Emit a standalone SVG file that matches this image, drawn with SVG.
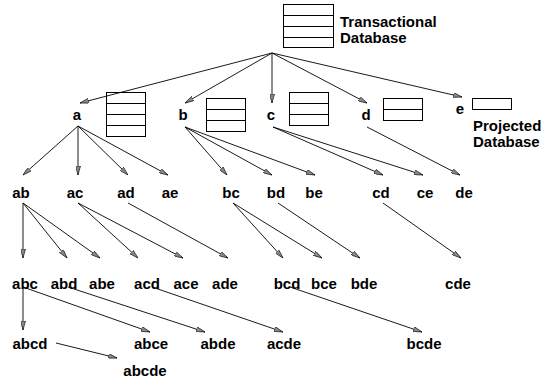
<svg xmlns="http://www.w3.org/2000/svg" width="545" height="381" viewBox="0 0 545 381">
  <style>
    text { font-family: "Liberation Sans", Arial, Helvetica, sans-serif; font-weight: bold; font-size: 15px; fill: #000; }
    .n { text-anchor: middle; }
    .db { fill: #fff; stroke: #000; stroke-width: 1; }
    .row { stroke: #000; stroke-width: 1; }
    .edge { stroke: #000; stroke-width: 0.9; fill: none; marker-end: url(#arr); }
  </style>
  <defs>
    <marker id="arr" markerUnits="userSpaceOnUse" viewBox="0 0 9 5" refX="9" refY="2.5" markerWidth="9" markerHeight="5" orient="auto">
      <path d="M0,0 L9,2.5 L0,5 Z" fill="#888" stroke="#000" stroke-width="0.6"/>
    </marker>
  </defs>

  <!-- database stacks -->
  <g id="db-root">
    <rect class="db" x="283.5" y="4.5" width="50" height="43"/>
    <path class="row" d="M283.5,15.5 H333.5 M283.5,26.5 H333.5 M283.5,37.5 H333.5"/>
    <text x="340" y="27">Transactional</text>
    <text x="340" y="43">Database</text>
  </g>
  <g id="db-a">
    <rect class="db" x="106.5" y="92.5" width="39" height="44"/>
    <path class="row" d="M106.5,103.5 H145.5 M106.5,114.5 H145.5 M106.5,125.5 H145.5"/>
  </g>
  <g id="db-b">
    <rect class="db" x="206.5" y="98.5" width="39" height="33"/>
    <path class="row" d="M206.5,109.5 H245.5 M206.5,120.5 H245.5"/>
  </g>
  <g id="db-c">
    <rect class="db" x="289.5" y="92.5" width="39" height="33"/>
    <path class="row" d="M289.5,103.5 H328.5 M289.5,114.5 H328.5"/>
  </g>
  <g id="db-d">
    <rect class="db" x="383.5" y="98.5" width="39" height="22"/>
    <path class="row" d="M383.5,109.5 H422.5"/>
  </g>
  <g id="db-e">
    <rect class="db" x="472.5" y="98.5" width="39" height="11"/>
    <text x="473" y="131">Projected</text>
    <text x="473" y="147">Database</text>
  </g>

  <!-- connectors -->
  <g id="edges">
    <line class="edge" x1="272" y1="53" x2="80" y2="103"/>
    <line class="edge" x1="272" y1="53" x2="185" y2="103"/>
    <line class="edge" x1="272" y1="53" x2="272" y2="103"/>
    <line class="edge" x1="272" y1="53" x2="367" y2="103"/>
    <line class="edge" x1="272" y1="53" x2="462" y2="97"/>

    <line class="edge" x1="78" y1="126" x2="23" y2="175"/>
    <line class="edge" x1="78" y1="126" x2="78" y2="175"/>
    <line class="edge" x1="78" y1="126" x2="128" y2="175"/>
    <line class="edge" x1="78" y1="126" x2="168" y2="175"/>
    <line class="edge" x1="185" y1="127" x2="227" y2="175"/>
    <line class="edge" x1="185" y1="127" x2="272" y2="175"/>
    <line class="edge" x1="185" y1="127" x2="315" y2="175"/>
    <line class="edge" x1="273" y1="127" x2="383" y2="175"/>
    <line class="edge" x1="273" y1="127" x2="423" y2="175"/>
    <line class="edge" x1="367" y1="127" x2="460" y2="175"/>

    <line class="edge" x1="23" y1="203" x2="23" y2="258"/>
    <line class="edge" x1="23" y1="203" x2="67" y2="258"/>
    <line class="edge" x1="23" y1="203" x2="100" y2="258"/>
    <line class="edge" x1="78" y1="203" x2="138" y2="258"/>
    <line class="edge" x1="78" y1="203" x2="183" y2="258"/>
    <line class="edge" x1="128" y1="203" x2="228" y2="258"/>
    <line class="edge" x1="233" y1="203" x2="283" y2="258"/>
    <line class="edge" x1="233" y1="203" x2="322" y2="258"/>
    <line class="edge" x1="278" y1="203" x2="360" y2="258"/>
    <line class="edge" x1="383" y1="203" x2="461" y2="258"/>

    <line class="edge" x1="23" y1="287" x2="23" y2="330"/>
    <line class="edge" x1="23" y1="287" x2="150" y2="332"/>
    <line class="edge" x1="68" y1="287" x2="205" y2="332"/>
    <line class="edge" x1="152" y1="287" x2="283" y2="332"/>
    <line class="edge" x1="290" y1="287" x2="422" y2="332"/>
    <line class="edge" x1="56" y1="343" x2="117" y2="358"/>
  </g>

  <!-- itemset nodes -->
  <g id="n-a"><text class="n" x="77" y="120">a</text></g>
  <g id="n-b"><text class="n" x="183" y="120">b</text></g>
  <g id="n-c"><text class="n" x="271" y="120">c</text></g>
  <g id="n-d"><text class="n" x="366" y="120">d</text></g>
  <g id="n-e"><text class="n" x="460" y="114">e</text></g>

  <g id="n-ab"><text class="n" x="21" y="198">ab</text></g>
  <g id="n-ac"><text class="n" x="75" y="198">ac</text></g>
  <g id="n-ad"><text class="n" x="126" y="198">ad</text></g>
  <g id="n-ae"><text class="n" x="170" y="198">ae</text></g>
  <g id="n-bc"><text class="n" x="231" y="198">bc</text></g>
  <g id="n-bd"><text class="n" x="276" y="198">bd</text></g>
  <g id="n-be"><text class="n" x="314" y="198">be</text></g>
  <g id="n-cd"><text class="n" x="381" y="198">cd</text></g>
  <g id="n-ce"><text class="n" x="425" y="198">ce</text></g>
  <g id="n-de"><text class="n" x="464" y="198">de</text></g>

  <g id="n-abc"><text class="n" x="25" y="289">abc</text></g>
  <g id="n-abd"><text class="n" x="64" y="289">abd</text></g>
  <g id="n-abe"><text class="n" x="102" y="289">abe</text></g>
  <g id="n-acd"><text class="n" x="147" y="289">acd</text></g>
  <g id="n-ace"><text class="n" x="186" y="289">ace</text></g>
  <g id="n-ade"><text class="n" x="225" y="289">ade</text></g>
  <g id="n-bcd"><text class="n" x="287" y="289">bcd</text></g>
  <g id="n-bce"><text class="n" x="324" y="289">bce</text></g>
  <g id="n-bde"><text class="n" x="364" y="289">bde</text></g>
  <g id="n-cde"><text class="n" x="458" y="289">cde</text></g>

  <g id="n-abcd"><text class="n" x="30" y="349">abcd</text></g>
  <g id="n-abce"><text class="n" x="151" y="349">abce</text></g>
  <g id="n-abde"><text class="n" x="218" y="349">abde</text></g>
  <g id="n-acde"><text class="n" x="284" y="349">acde</text></g>
  <g id="n-bcde"><text class="n" x="424" y="349">bcde</text></g>
  <g id="n-abcde"><text class="n" x="145" y="376">abcde</text></g>
</svg>
